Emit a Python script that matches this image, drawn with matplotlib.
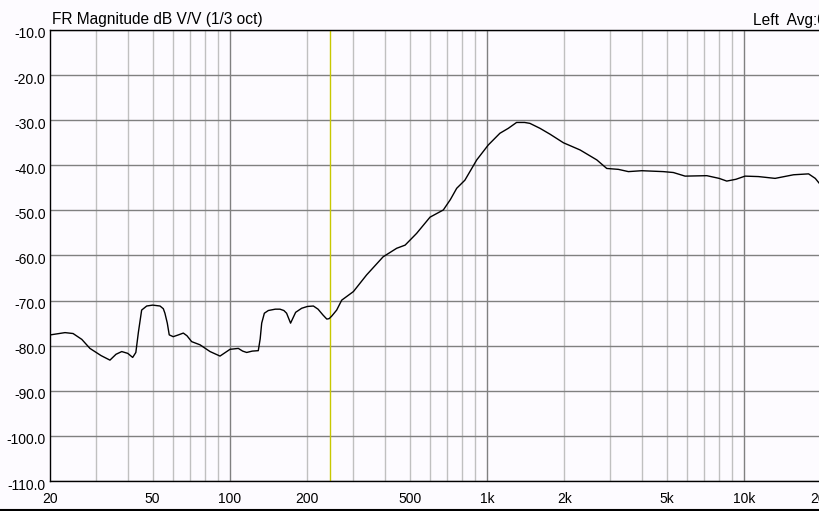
import matplotlib
matplotlib.use("Agg")
import matplotlib.pyplot as plt
from matplotlib.ticker import FixedLocator, NullFormatter
from matplotlib.transforms import ScaledTranslation

plt.rcParams["font.family"] = ["Liberation Sans", "DejaVu Sans"]

# traced response (Hz, dB)
freq = [20, 22.8, 24.5, 26.5, 28.5, 31.5, 34.1, 36.0, 37.9, 40.0, 41.8, 43.0,
        44.0, 45.3, 47.4, 50.0, 53.4, 55.0, 55.8, 57.0, 58.0, 60.1, 63.0, 65.8,
        68.0, 70.9, 76.4, 83.6, 91.4, 100, 107.7, 112, 116.1, 122, 128.8, 131,
        132.8, 136, 140.9, 150, 156.4, 162, 166, 172, 180, 190, 200, 211, 220,
        230, 238, 243, 249, 260, 272, 302, 340, 394, 445, 480, 532, 600, 676,
        720, 762, 820, 912, 1011, 1122, 1210, 1303, 1400, 1468, 1607, 1758,
        1982, 2302, 2673, 2923, 3243, 3548, 4000, 4853, 5308, 5897, 7164, 8000,
        8567, 9300, 10093, 11378, 13210, 15580, 17830, 18930, 19630, 20000]
mag = [-77.6, -77.1, -77.3, -78.6, -80.6, -82.2, -83.2, -81.9, -81.3, -81.7,
       -82.6, -81.5, -77.0, -72.1, -71.2, -71.0, -71.2, -71.8, -72.8, -75.0,
       -77.6, -78.0, -77.6, -77.2, -77.8, -79.1, -79.8, -81.3, -82.3, -80.8,
       -80.6, -81.2, -81.5, -81.2, -81.1, -78.5, -75.0, -72.8, -72.2, -71.9,
       -71.9, -72.2, -72.8, -75.0, -72.6, -71.7, -71.3, -71.2, -71.9, -73.2,
       -74.1, -74.0, -73.4, -72.1, -69.9, -68.0, -64.3, -60.3, -58.4, -57.7,
       -55.1, -51.5, -49.9, -47.6, -45.1, -43.3, -38.8, -35.5, -32.9, -31.8,
       -30.5, -30.5, -30.7, -31.8, -33.1, -35.0, -36.6, -38.8, -40.7, -40.9,
       -41.4, -41.2, -41.4, -41.6, -42.4, -42.3, -42.9, -43.5, -43.1, -42.4,
       -42.5, -42.9, -42.1, -41.9, -42.9, -44.0, -44.5]

xticks = [20, 50, 100, 200, 500, 1000, 2000, 5000, 10000, 20000]
xtick_labels = ["20", "50", "100", "200", "500", "1k", "2k", "5k", "10k", "20k"]
yticks = list(range(-110, 0, 10))
cursor_freq = 245

W, H = 819, 511
bg = "#fdfbff"
fig = plt.figure(figsize=(W / 100, H / 100), dpi=100)
fig.patch.set_facecolor(bg)
ax = fig.add_axes([50.4 / W, (H - 481) / H, 771 / W, 451 / H])
ax.set_facecolor(bg)
ax.set_xscale("log")
ax.set_xlim(20, 20000)
ax.set_ylim(-110, -10)

major_x = [100, 1000, 10000]
minor_x = [m * d for d in (10, 100, 1000, 10000) for m in range(2, 10)
           if 20 < m * d < 20000]
for f in minor_x:
    ax.axvline(f, color="#c0c0c0", lw=1.0, zorder=1)
for f in major_x:
    ax.axvline(f, color="#808080", lw=1.0, zorder=1)
for y in yticks:
    ax.axhline(y, color="#808080", lw=1.0, zorder=1)

ax.axvline(cursor_freq, color="#c8c800", lw=1.0, zorder=2)
ax.plot(freq, mag, color="black", lw=1.0, zorder=3)

ax.xaxis.set_major_locator(FixedLocator(xticks))
ax.xaxis.set_minor_locator(FixedLocator([]))
ax.xaxis.set_minor_formatter(NullFormatter())
ax.set_xticklabels(xtick_labels)
ax.set_yticks(yticks)
ax.set_yticklabels(["%.1f" % v for v in yticks])
ax.tick_params(length=0, labelsize=10, colors="black")
ax.tick_params(axis="x", pad=8)
ax.tick_params(axis="y", pad=3.5)
shift = ScaledTranslation(0, -3 / 100, fig.dpi_scale_trans)
for lab in ax.get_yticklabels():
    lab.set_transform(lab.get_transform() + shift)

for s in ("left", "bottom", "top"):
    ax.spines[s].set_color("black")
    ax.spines[s].set_linewidth(1.0)
ax.spines["right"].set_visible(False)

fig.text(52 / W, 1 - 19 / H, "FR Magnitude dB V/V (1/3 oct)", fontsize=11.2,
         va="center", ha="left")
fig.text(753 / W, 1 - 20 / H, "Left  Avg:0", fontsize=11.2, va="center", ha="left")
fig.add_artist(plt.Line2D([0, 1], [1.5 / H, 1.5 / H], color="black", lw=1.5,
                          transform=fig.transFigure))

fig.savefig("out.png", dpi=100, facecolor=bg)
